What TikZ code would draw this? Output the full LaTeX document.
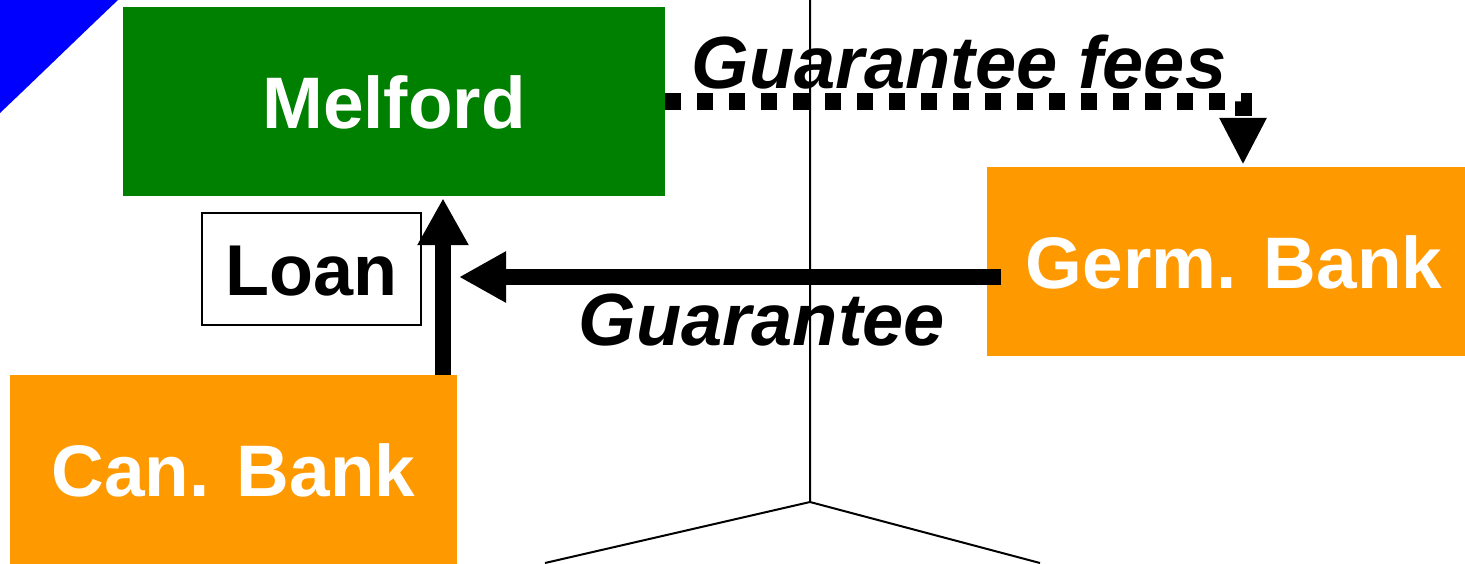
\documentclass[tikz,border=0pt]{standalone}
\usepackage{fontspec}
\setmainfont{Liberation Sans}
\usetikzlibrary{arrows.meta}
\definecolor{melgreen}{RGB}{0,128,0}
\definecolor{bankorange}{RGB}{255,153,0}

\begin{document}
\begin{tikzpicture}[
    x=1pt,y=-1pt,
    font=\fontsize{73}{80}\selectfont\bfseries,
    party/.style={inner sep=0pt,minimum height=189pt,text height=53pt,text depth=0pt,text=white},
    flow/.style={line width=16pt,-{Triangle[width=48pt,length=47pt]}}
    ]
    \useasboundingbox (0,0) rectangle (1465,563);

    % corner piece
    \fill[blue] (0,0) -- (118,0) .. controls (80,36) and (40,75) .. (0,113) -- cycle;

    \node (melford) [party,fill=melgreen,minimum width=542pt] at (394,101.5) {Melford};
    \node (germ) [party,fill=bankorange,minimum width=494pt] at (1234,261.5) {Germ. Bank};
    \node (can) [party,fill=bankorange,minimum width=447pt] at (233.5,469.5) {Can. Bank};
    \node (loan) [draw,line width=2pt,inner sep=0pt,minimum width=219pt,minimum height=112pt,
                  text height=52pt,text depth=0pt,font=\fontsize{72}{80}\selectfont\bfseries] at (311.5,269) {Loan};

    % axes
    \coordinate (top) at (810,0);
    \coordinate (corner) at (810,502);
    \draw[line width=2pt] (top) -- (corner) -- (545,563);
    \draw[line width=2pt] (corner) -- (1040,563);

    \coordinate (tip) at (459,277);
    \draw[flow] ([xshift=21pt]can.north -| loan.east) -- ([yshift=-2pt,xshift=21pt]melford.south -| loan.east);
    \draw[flow] ([xshift=14pt,yshift=-15.5pt]germ.west) -- (tip);
    \draw[line width=17pt,dash pattern=on 16pt off 16pt,-{Triangle[width=44pt,length=47pt]},shorten >=2pt]
        (melford.east) -| ([xshift=9pt]germ.north);

    \node (fees) [anchor=base,font=\fontsize{74}{80}\selectfont\bfseries\itshape] at (959,88) {Guarantee fees};
    \node (guar) [anchor=base,font=\fontsize{74}{80}\selectfont\bfseries\itshape] at (762,345) {Guarantee};

  \end{tikzpicture}
\end{document}
